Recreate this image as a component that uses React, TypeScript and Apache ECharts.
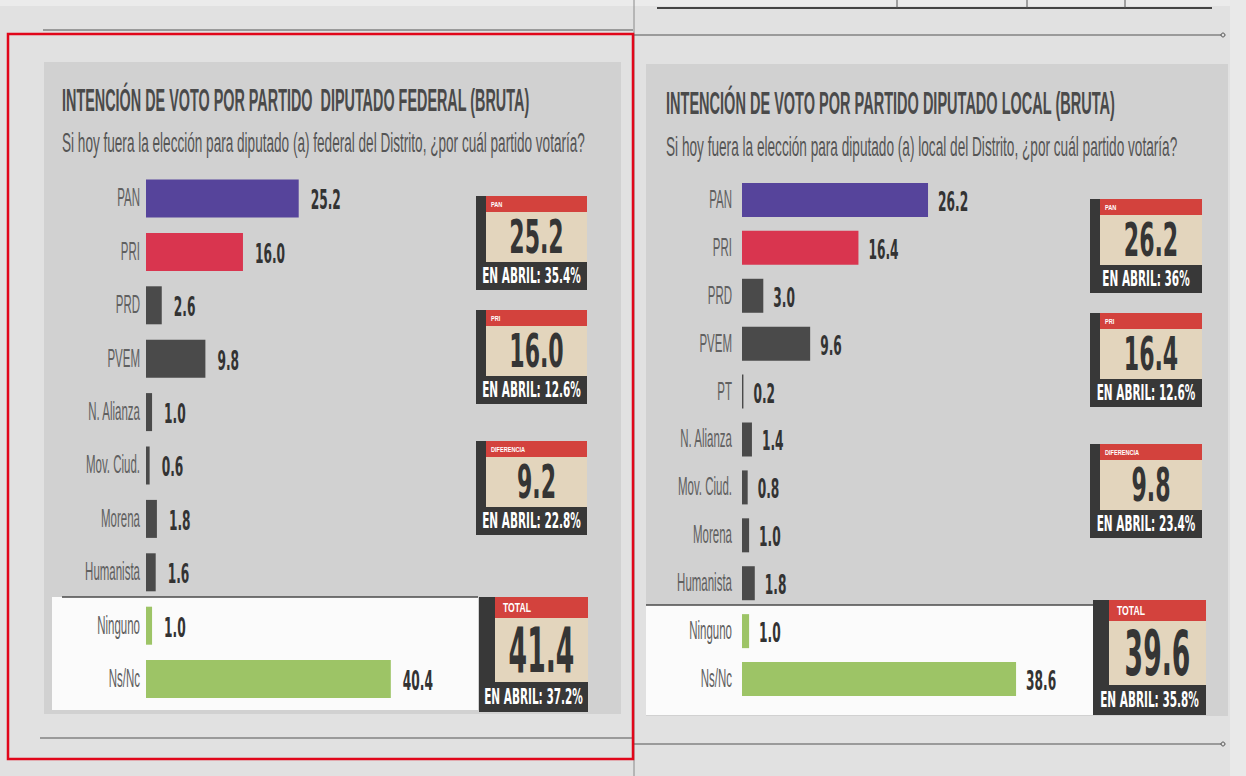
import React, { useEffect, useRef } from 'react';
import * as echarts from 'echarts';

// ---------- data ----------
const federalCategories = ['PAN', 'PRI', 'PRD', 'PVEM', 'N. Alianza', 'Mov. Ciud.', 'Morena', 'Humanista', 'Ninguno', 'Ns/Nc'];
const federalValues = [25.2, 16.0, 2.6, 9.8, 1.0, 0.6, 1.8, 1.6, 1.0, 40.4];

const localCategories = ['PAN', 'PRI', 'PRD', 'PVEM', 'PT', 'N. Alianza', 'Mov. Ciud.', 'Morena', 'Humanista', 'Ninguno', 'Ns/Nc'];
const localValues = [26.2, 16.4, 3.0, 9.6, 0.2, 1.4, 0.8, 1.0, 1.8, 1.0, 38.6];

const federalTitle = 'INTENCIÓN DE VOTO POR PARTIDO  DIPUTADO FEDERAL (BRUTA)';
const federalSubtitle = 'Si hoy fuera la elección para diputado (a) federal del Distrito, ¿por cuál partido votaría?';
const localTitle = 'INTENCIÓN DE VOTO POR PARTIDO DIPUTADO LOCAL (BRUTA)';
const localSubtitle = 'Si hoy fuera la elección para diputado (a) local del Distrito, ¿por cuál partido votaría?';

const boxLabels = ['PAN', 'PRI', 'DIFERENCIA', 'TOTAL'];
const federalBoxValues = [25.2, 16.0, 9.2, 41.4];
const federalBoxApril = [35.4, 12.6, 22.8, 37.2];
const localBoxValues = [26.2, 16.4, 9.8, 39.6];
const localBoxApril = [36, 12.6, 23.4, 35.8];

// ---------- styles ----------
const FONT = '"Liberation Sans", Arial, Helvetica, sans-serif';
const HEAVY = '"DejaVu Sans", "Liberation Sans", Arial, sans-serif';
const DARK = '#383838';
const RED = '#d3423d';
const BEIGE = '#e3d5bd';

function partyColor(name: string): string {
  if (name === 'PAN') return '#56449b';
  if (name === 'PRI') return '#d9354f';
  if (name === 'Ninguno' || name === 'Ns/Nc') return '#9dc466';
  return '#4a4a4a';
}

function measure(text: string, weight: string, size: number): number {
  const c = document.createElement('canvas');
  const ctx = c.getContext('2d');
  if (!ctx) return text.length * size * 0.55;
  ctx.font = `${weight} ${size}px "Liberation Sans", Arial, sans-serif`;
  return ctx.measureText(text).width;
}

function fitText(text: string, x: number, y: number, targetW: number, size: number, weight: string, fill: string) {
  const w = measure(text, weight, size);
  return {
    type: 'text',
    x,
    y,
    scaleX: targetW / w,
    silent: true,
    style: {
      text,
      fill,
      fontSize: size,
      fontWeight: weight,
      fontFamily: FONT,
      align: 'left',
      textAlign: 'left',
      verticalAlign: 'middle',
      textVerticalAlign: 'middle',
    },
  };
}

function txt(text: string, x: number, y: number, size: number, weight: string, fill: string, scaleX: number, align: string, family: string) {
  return {
    type: 'text',
    x,
    y,
    scaleX,
    silent: true,
    style: {
      text,
      fill,
      fontSize: size,
      fontWeight: weight,
      fontFamily: family,
      align,
      textAlign: align,
      verticalAlign: 'middle',
      textVerticalAlign: 'middle',
    },
  };
}

function rect(x: number, y: number, w: number, h: number, fill: string) {
  return { type: 'rect', silent: true, shape: { x, y, width: w, height: h }, style: { fill } };
}

function line(x1: number, y1: number, x2: number, y2: number, stroke: string, lw: number) {
  return { type: 'line', silent: true, shape: { x1, y1, x2, y2 }, style: { stroke, lineWidth: lw } };
}

function box(x0: number, top: number, w: number, label: string, value: number, april: number, big: boolean) {
  const aprilText = `EN ABRIL: ${april}%`;
  const valueText = value.toFixed(1);
  if (!big) {
    const lb = 10;
    return [
      rect(x0, top, lb, 94, DARK),
      rect(x0 + lb, top, w - lb, 16, RED),
      rect(x0 + lb, top + 16, w - lb, 50, BEIGE),
      rect(x0, top + 66, w, 28, DARK),
      txt(label, x0 + lb + 5, top + 8, 8, 'bold', '#ffffff', 0.7, 'left', FONT),
      txt(valueText, x0 + lb + (w - lb) / 2, top + 42, 46, 'bold', '#353535', 0.48, 'center', HEAVY),
      txt(aprilText, x0 + w / 2, top + 80, 21, 'bold', '#ffffff', 0.5, 'center', HEAVY),
    ];
  }
  const lb = 16;
  return [
    rect(x0, top, lb, 115, DARK),
    rect(x0 + lb, top, w - lb, 21, RED),
    rect(x0 + lb, top + 21, w - lb, 64, BEIGE),
    rect(x0, top + 85, w, 30, DARK),
    txt(label, x0 + lb + 8, top + 11, 12, 'bold', '#ffffff', 0.72, 'left', FONT),
    txt(valueText, x0 + lb + (w - lb) / 2, top + 54, 62, 'bold', '#353535', 0.43, 'center', HEAVY),
    txt(aprilText, x0 + w / 2, top + 100, 21, 'bold', '#ffffff', 0.5, 'center', HEAVY),
  ];
}

function barSeries(idx: number, cats: string[], vals: number[], barWidth: number) {
  return {
    type: 'bar',
    xAxisIndex: idx,
    yAxisIndex: idx,
    barWidth,
    silent: true,
    z: 3,
    data: vals.map((v, i) => ({ value: v, itemStyle: { color: partyColor(cats[i]) } })),
  };
}

function labelSeries(idx: number, cats: string[], vals: number[], catGap: number, valGap: number) {
  return {
    type: 'custom',
    xAxisIndex: idx,
    yAxisIndex: idx,
    clip: false,
    silent: true,
    z: 4,
    encode: { x: 0, y: 1 },
    data: vals.map((v, i) => [v, i]),
    renderItem: (params: any, api: any) => {
      const i = params.dataIndex;
      const v = vals[i];
      const start = api.coord([0, i]);
      const end = api.coord([v, i]);
      return {
        type: 'group',
        children: [
          {
            type: 'text',
            x: start[0] - catGap,
            y: start[1] - 1,
            scaleX: 0.46,
            style: {
              text: cats[i],
              fill: '#606060',
              fontSize: 25,
              fontFamily: FONT,
              align: 'right',
              textAlign: 'right',
              verticalAlign: 'middle',
              textVerticalAlign: 'middle',
            },
          },
          {
            type: 'text',
            x: end[0] + valGap,
            y: end[1] + 2,
            scaleX: 0.47,
            style: {
              text: v.toFixed(1),
              fill: '#333333',
              fontSize: 26,
              fontWeight: 'bold',
              fontFamily: HEAVY,
              align: 'left',
              textAlign: 'left',
              verticalAlign: 'middle',
              textVerticalAlign: 'middle',
            },
          },
        ],
      };
    },
  };
}

export default function App() {
  const ref = useRef<HTMLDivElement | null>(null);

  useEffect(() => {
    document.body.style.margin = '0';
    if (!ref.current) return;
    const chart = echarts.init(ref.current, undefined, { renderer: 'svg' });

    const graphics: any[] = [
      // page
      rect(0, 0, 1246, 776, '#e1e1e1'),
      rect(0, 0, 1246, 6, '#ebebeb'),
      rect(1230, 0, 16, 776, '#e9e9e9'),
      // panels
      rect(44, 62, 577, 652, '#d1d1d1'),
      rect(646, 64, 582, 652, '#d1d1d1'),
      // white zones
      rect(52, 597, 426, 113, '#fbfbfb'),
      line(62, 597, 478, 597, '#4a4a4a', 1.5),
      rect(646, 605, 447, 110, '#fbfbfb'),
      line(646, 605, 1093, 605, '#4a4a4a', 1.5),
      // newspaper rules
      line(657, 8, 1212, 8, '#444444', 2),
      line(897, 0, 897, 8, '#555555', 1),
      line(1027, 0, 1027, 8, '#555555', 1),
      line(1125, 0, 1125, 8, '#555555', 1),
      line(634, 0, 634, 776, '#8a8a8a', 1),
      line(43, 30, 633, 30, '#555555', 1.2),
      line(634, 35, 1221, 35, '#555555', 1.2),
      { type: 'circle', silent: true, shape: { cx: 1223, cy: 35, r: 2 }, style: { fill: 'none', stroke: '#555555', lineWidth: 1 } },
      line(40, 738, 632, 738, '#555555', 1.2),
      line(634, 744, 1221, 744, '#555555', 1.2),
      { type: 'circle', silent: true, shape: { cx: 1223, cy: 744, r: 2 }, style: { fill: 'none', stroke: '#555555', lineWidth: 1 } },
      // titles
      fitText(federalTitle, 62, 100, 468, 32, 'bold', '#4a4a4a'),
      fitText(federalSubtitle, 62, 143, 523, 27, 'normal', '#555555'),
      fitText(localTitle, 666, 103, 449, 32, 'bold', '#4a4a4a'),
      fitText(localSubtitle, 666, 147, 512, 27, 'normal', '#555555'),
    ];

    // boxes
    const leftTops = [196, 310, 441];
    const rightTops = [199, 313, 444];
    for (let k = 0; k < 3; k++) {
      graphics.push(...box(476, leftTops[k], 111, boxLabels[k], federalBoxValues[k], federalBoxApril[k], false));
      graphics.push(...box(1090, rightTops[k], 112, boxLabels[k], localBoxValues[k], localBoxApril[k], false));
    }
    graphics.push(...box(479, 597, 109, boxLabels[3], federalBoxValues[3], federalBoxApril[3], true));
    graphics.push(...box(1093, 600, 113, boxLabels[3], localBoxValues[3], localBoxApril[3], true));

    // red frame
    graphics.push({
      type: 'rect',
      silent: true,
      shape: { x: 8, y: 34, width: 625, height: 725 },
      style: { fill: 'none', stroke: '#e1061a', lineWidth: 2.5 },
    });

    const hiddenValueAxis = (idx: number) => ({
      type: 'value',
      gridIndex: idx,
      min: 0,
      max: 50,
      show: false,
      splitLine: { show: false },
    });
    const hiddenCatAxis = (idx: number, cats: string[]) => ({
      type: 'category',
      gridIndex: idx,
      data: cats,
      inverse: true,
      show: false,
      axisLine: { show: false },
      axisTick: { show: false },
      axisLabel: { show: false },
    });

    const option: any = {
      animation: false,
      backgroundColor: '#e1e1e1',
      tooltip: { show: false },
      graphic: { elements: graphics },
      grid: [
        { left: 146, top: 171.8, width: 303, height: 534, outerBoundsMode: 'none', containLabel: false },
        { left: 742, top: 176, width: 355, height: 527, outerBoundsMode: 'none', containLabel: false },
      ],
      xAxis: [hiddenValueAxis(0), hiddenValueAxis(1)],
      yAxis: [hiddenCatAxis(0, federalCategories), hiddenCatAxis(1, localCategories)],
      series: [
        barSeries(0, federalCategories, federalValues, 38),
        labelSeries(0, federalCategories, federalValues, 6, 12),
        barSeries(1, localCategories, localValues, 34),
        labelSeries(1, localCategories, localValues, 10, 10),
      ],
    };

    chart.setOption(option);
    return () => {
      chart.dispose();
    };
  }, []);

  return (
    <div
      ref={ref}
      style={{ position: 'fixed', left: 0, top: 0, width: 1246, height: 776 }}
    />
  );
}
